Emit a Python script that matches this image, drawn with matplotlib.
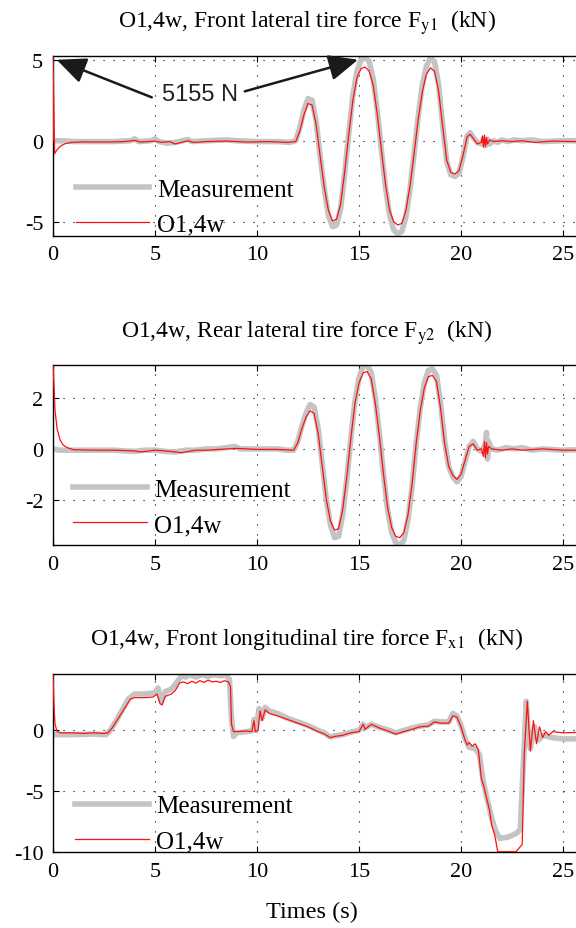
import matplotlib
matplotlib.use("Agg")
import matplotlib.pyplot as plt

plt.rcParams["font.family"] = ["Liberation Serif", "DejaVu Serif"]
plt.rcParams["mathtext.fontset"] = "stix"
plt.rcParams["axes.unicode_minus"] = False

# ---- data (kN vs s) ----
t_fy1_meas = [0.0, 0.5, 1.0, 2.0, 3.0, 3.8, 4.0, 4.2, 4.8, 5.0, 5.2, 5.6, 6.0, 6.6, 6.8, 7.5, 8.5, 9.0,
              10.0, 11.0, 11.6, 11.9, 12.1, 12.3, 12.5, 12.7, 12.9, 13.1, 13.3, 13.5, 13.7, 13.9, 14.1,
              14.3, 14.5, 14.7, 14.9, 15.1, 15.3, 15.5, 15.7, 15.9, 16.1, 16.3, 16.5, 16.7, 16.9, 17.1,
              17.3, 17.5, 17.7, 17.9, 18.1, 18.3, 18.5, 18.7, 18.9, 19.1, 19.3, 19.5, 19.7, 19.9, 20.1,
              20.3, 20.45, 20.6, 20.8, 21.0, 21.1, 21.2, 21.3, 21.4, 21.6, 21.8, 22.0, 22.3, 22.6, 23.0,
              23.5, 24.0, 25.0, 26.0, 27.0]
fy1_meas = [0.0, 0.0, -0.05, -0.05, -0.05, 0.0, 0.12, -0.05, 0.0, 0.1, -0.05, -0.15, -0.1, 0.08, -0.05,
            0.0, 0.05, 0.0, -0.05, -0.05, -0.1, 0.0, 0.8, 1.9, 2.6, 2.5, 1.2, -1.0, -3.0, -4.6, -5.3,
            -5.2, -4.2, -2.0, 0.5, 2.8, 4.3, 5.0, 5.15, 4.9, 3.8, 1.8, -0.6, -2.9, -4.6, -5.5, -5.75,
            -5.6, -4.7, -3.0, -0.8, 1.5, 3.4, 4.6, 5.1, 4.9, 3.5, 1.0, -1.3, -2.1, -2.2, -2.0, -1.0,
            0.3, 0.5, 0.2, -0.1, -0.2, 0.1, -0.3, 0.1, -0.2, 0.0, -0.1, 0.05, -0.05, 0.05, 0.0,
            0.05, -0.05, 0.0, 0.0, 0.0]

t_fy1_obs = [0.0, 0.0, 0.08, 0.2, 0.4, 0.6, 0.9, 1.5, 2.5, 3.5, 4.0, 4.3, 5.0, 5.3, 5.7, 6.0, 6.6,
             6.9, 7.5, 8.5, 9.5, 10.5, 11.5, 11.9, 12.1, 12.3, 12.5, 12.7, 12.9, 13.1, 13.3, 13.5,
             13.7, 13.9, 14.1, 14.3, 14.5, 14.7, 14.9, 15.1, 15.3, 15.5, 15.7, 15.9, 16.1, 16.3,
             16.5, 16.7, 16.9, 17.1, 17.3, 17.5, 17.7, 17.9, 18.1, 18.3, 18.5, 18.7, 18.9, 19.1,
             19.3, 19.5, 19.7, 19.9, 20.1, 20.3, 20.45, 20.6, 20.8, 21.0, 21.05, 21.1, 21.15, 21.2,
             21.25, 21.3, 21.4, 21.6, 22.0, 22.5, 23.0, 23.6, 24.5, 25.5, 27.0]
fy1_obs = [0.0, 5.3, -0.8, -0.55, -0.3, -0.18, -0.1, -0.07, -0.08, -0.05, 0.02, -0.08, -0.02, -0.1,
           -0.05, -0.2, 0.0, -0.1, -0.05, -0.02, -0.08, -0.05, -0.1, -0.05, 0.6, 1.6, 2.3, 2.2, 1.0,
           -1.0, -2.9, -4.3, -4.95, -4.85, -3.9, -1.9, 0.4, 2.5, 3.9, 4.45, 4.55, 4.3, 3.4, 1.6,
           -0.6, -2.7, -4.3, -5.0, -5.2, -5.1, -4.3, -2.8, -0.8, 1.3, 3.0, 4.1, 4.5, 4.3, 3.1, 0.9,
           -1.2, -1.95, -2.05, -1.85, -0.9, 0.25, 0.4, 0.15, -0.2, -0.1, 0.3, -0.4, 0.35, -0.35,
           0.2, -0.2, 0.05, -0.05, 0.0, -0.05, 0.0, -0.1, -0.02, -0.05, -0.05]

t_fy2_meas = [0.0, 0.3, 1.0, 2.0, 3.0, 4.0, 4.5, 5.0, 5.5, 6.0, 6.5, 7.0, 7.5, 8.0, 8.5, 8.9, 9.2, 10.0,
              10.5, 11.0, 11.5, 11.8, 12.0, 12.2, 12.4, 12.6, 12.8, 13.0, 13.2, 13.4, 13.6, 13.8, 14.0,
              14.2, 14.4, 14.6, 14.8, 15.0, 15.2, 15.4, 15.6, 15.8, 16.0, 16.2, 16.4, 16.6, 16.8, 17.0,
              17.2, 17.4, 17.6, 17.8, 18.0, 18.2, 18.4, 18.6, 18.8, 19.0, 19.2, 19.4, 19.6, 19.8, 20.0,
              20.2, 20.4, 20.6, 20.8, 21.0, 21.2, 21.25, 21.3, 21.35, 21.5, 21.8, 22.2, 22.6, 23.0,
              23.5, 24.0, 25.0, 27.0]
fy2_meas = [0.0, -0.05, -0.05, -0.05, -0.05, -0.1, -0.05, -0.05, -0.1, -0.12, -0.05, -0.05, 0.0, 0.0,
            0.05, 0.1, 0.0, 0.0, 0.0, 0.0, -0.05, -0.05, 0.3, 0.9, 1.4, 1.75, 1.65, 0.8, -0.6, -2.0,
            -3.0, -3.5, -3.45, -2.6, -1.2, 0.4, 1.9, 2.8, 3.25, 3.3, 3.0, 2.0, 0.6, -1.0, -2.4, -3.3,
            -3.7, -3.8, -3.6, -2.8, -1.5, 0.2, 1.6, 2.6, 3.1, 3.15, 2.9, 1.8, 0.3, -0.7, -1.1, -1.3,
            -1.1, -0.5, 0.1, 0.3, 0.0, -0.1, 0.2, 0.65, -0.4, 0.3, 0.0, -0.05, 0.05, 0.0, 0.05,
            -0.05, 0.0, -0.05, 0.0]

t_fy2_obs = [0.0, 0.1, 0.2, 0.35, 0.5, 0.7, 1.0, 2.0, 3.0, 4.0, 4.3, 5.0, 5.5, 6.0, 6.3, 7.0, 7.5,
             8.5, 9.0, 10.0, 11.0, 11.8, 12.0, 12.2, 12.4, 12.6, 12.8, 13.0, 13.2, 13.4, 13.6, 13.8,
             14.0, 14.2, 14.4, 14.6, 14.8, 15.0, 15.2, 15.4, 15.6, 15.8, 16.0, 16.2, 16.4, 16.6,
             16.8, 17.0, 17.2, 17.4, 17.6, 17.8, 18.0, 18.2, 18.4, 18.6, 18.8, 19.0, 19.2, 19.4,
             19.6, 19.8, 20.0, 20.2, 20.4, 20.6, 20.8, 21.0, 21.1, 21.15, 21.2, 21.25, 21.3, 21.35,
             21.5, 22.0, 22.5, 23.0, 24.0, 25.0, 27.0]
fy2_obs = [3.4, 1.5, 0.8, 0.35, 0.15, 0.05, -0.03, -0.05, -0.05, -0.08, -0.12, -0.05, -0.08, -0.12,
           -0.15, -0.05, -0.05, 0.0, 0.02, -0.02, -0.02, -0.05, 0.25, 0.8, 1.25, 1.5, 1.4, 0.6, -0.7,
           -2.0, -2.85, -3.2, -3.15, -2.4, -1.1, 0.4, 1.8, 2.6, 3.0, 3.05, 2.75, 1.8, 0.5, -1.0,
           -2.3, -3.1, -3.45, -3.5, -3.3, -2.6, -1.4, 0.2, 1.5, 2.4, 2.85, 2.9, 2.65, 1.6, 0.2,
           -0.7, -1.05, -1.2, -1.0, -0.45, 0.1, 0.2, -0.05, 0.0, -0.3, 0.3, -0.35, 0.25, -0.2, 0.1,
           0.0, -0.05, 0.0, -0.05, 0.0, -0.05, -0.05]

t_fx1_meas = [0.0, 1.0, 2.0, 2.6, 2.8, 3.1, 3.4, 3.7, 4.0, 4.5, 5.0, 5.15, 5.3, 5.5, 5.8, 6.0, 6.3,
              6.5, 6.7, 7.0, 7.3, 7.6, 7.9, 8.2, 8.5, 8.65, 8.75, 8.85, 9.0, 9.5, 9.8, 9.85, 9.95,
              10.1, 10.25, 10.4, 10.6, 11.0, 11.5, 12.0, 12.5, 13.0, 13.3, 13.6, 13.8, 14.2, 14.6,
              15.0, 15.2, 15.3, 15.6, 16.0, 16.5, 16.8, 17.2, 17.6, 18.0, 18.4, 18.7, 19.0, 19.4,
              19.6, 19.8, 20.0, 20.2, 20.4, 20.7, 20.9, 21.1, 21.3, 21.5, 21.7, 21.9, 22.3, 22.7,
              22.9, 23.05, 23.2, 23.3, 23.4, 23.6, 23.8, 24.0, 24.5, 25.0, 26.0, 27.0]
fx1_meas = [-0.35, -0.35, -0.3, -0.35, 0.0, 0.8, 1.7, 2.6, 3.0, 3.0, 3.1, 3.5, 2.4, 3.2, 3.4, 3.8,
            4.5, 4.4, 4.6, 4.4, 4.6, 4.45, 4.6, 4.5, 4.55, 4.2, 1.0, -0.5, -0.2, -0.1, 0.0, 0.9,
            0.0, 1.8, 1.0, 1.9, 1.6, 1.4, 1.0, 0.7, 0.4, 0.0, -0.2, -0.55, -0.45, -0.35, -0.15,
            0.0, 0.5, 0.2, 0.5, 0.25, 0.0, -0.2, 0.0, 0.2, 0.35, 0.45, 0.75, 0.7, 0.7, 1.4, 1.2, 0.4,
            -0.7, -1.4, -1.5, -2.0, -4.3, -5.8, -7.2, -8.3, -8.9, -8.8, -8.5, -8.2, -3.0, 2.4, -0.5,
            -1.5, 0.3, -0.8, -0.4, -0.6, -0.7, -0.7, -0.7]

t_fx1_obs = [0.0, 0.05, 0.1, 0.2, 0.4, 1.0, 1.5, 2.0, 2.5, 2.7, 2.9, 3.2, 3.5, 3.8, 4.0, 4.5, 4.9,
             5.1, 5.25, 5.35, 5.5, 5.8, 6.0, 6.2, 6.4, 6.6, 6.8, 7.0, 7.2, 7.4, 7.6, 7.8, 8.0, 8.2,
             8.4, 8.6, 8.7, 8.75, 8.85, 9.0, 9.5, 9.75, 9.85, 9.92, 10.05, 10.15, 10.25, 10.4, 10.6,
             11.0, 11.5, 12.0, 12.5, 13.0, 13.3, 13.6, 13.8, 14.2, 14.6, 15.0, 15.2, 15.3, 15.6,
             16.0, 16.5, 16.8, 17.2, 17.6, 18.0, 18.4, 18.7, 19.0, 19.4, 19.6, 19.8, 20.0, 20.2,
             20.3, 20.4, 20.55, 20.7, 20.85, 21.0, 21.1, 21.3, 21.4, 21.5, 21.65, 21.8, 22.7, 23.0,
             23.1, 23.25, 23.4, 23.55, 23.7, 23.85, 24.0, 24.15, 24.3, 24.5, 25.0, 26.0, 27.0]
fx1_obs = [4.7, 2.0, 0.5, -0.1, -0.2, -0.2, -0.25, -0.2, -0.25, -0.2, 0.2, 1.0, 1.8, 2.6, 2.7, 2.7,
           2.75, 3.0, 2.2, 2.1, 2.8, 3.0, 3.3, 3.9, 4.0, 3.85, 4.05, 3.9, 4.1, 3.95, 4.15, 4.0, 4.05,
           3.95, 4.1, 4.0, 3.6, 0.5, -0.1, -0.1, -0.05, -0.1, 0.8, -0.1, 0.0, 1.6, 0.8, 1.7, 1.4,
           1.2, 0.9, 0.6, 0.3, -0.1, -0.3, -0.6, -0.5, -0.4, -0.2, -0.1, 0.5, 0.1, 0.5, 0.2, -0.1,
           -0.3, -0.1, 0.1, 0.3, 0.35, 0.7, 0.6, 0.6, 1.2, 1.1, 0.3, -0.8, -1.2, -1.0, -1.3, -1.1,
           -1.6, -4.0, -4.5, -5.9, -6.6, -7.8, -8.6, -10.0, -10.0, -9.4, -2.0, 2.4, -1.7, 0.8, -1.1,
           0.3, -0.6, -0.1, -0.4, -0.1, -0.2, -0.15, -0.2]

panels = [
    dict(t_meas=t_fy1_meas, meas=fy1_meas, t_obs=t_fy1_obs, obs=fy1_obs,
         title=r"O1,4w, Front lateral tire force F$_{\mathrm{y1}}$  (kN)",
         ylim=(-5.86, 5.25), yticks=[-5, 0, 5], top=56.7, bottom=236.7,
         title_y=28, leg=(0.037, 0.0)),
    dict(t_meas=t_fy2_meas, meas=fy2_meas, t_obs=t_fy2_obs, obs=fy2_obs,
         title=r"O1,4w, Rear lateral tire force F$_{\mathrm{y2}}$  (kN)",
         ylim=(-3.79, 3.31), yticks=[-2, 0, 2], top=366, bottom=546,
         title_y=338, leg=(0.033, 0.05)),
    dict(t_meas=t_fx1_meas, meas=fx1_meas, t_obs=t_fx1_obs, obs=fx1_obs,
         title=r"O1,4w, Front longitudinal tire force F$_{\mathrm{x1}}$  (kN)",
         ylim=(-10.05, 4.65), yticks=[-10, -5, 0], top=675, bottom=853.3,
         title_y=645, leg=(0.036, 0.0)),
]

W, H = 576, 929
fig = plt.figure(figsize=(W / 100, H / 100), dpi=100)

for p in panels:
    ax = fig.add_axes([53 / W, 1 - p["bottom"] / H, 612 / W, (p["bottom"] - p["top"]) / H])
    ax.plot(p["t_meas"], p["meas"], color="#c4c4c4", lw=4.0, solid_joinstyle="round",
            label="Measurement", zorder=2)
    ax.plot(p["t_obs"], p["obs"], color="#ff1010", lw=0.9, label="O1,4w", zorder=3)
    ax.set_xlim(0, 30)
    ax.set_ylim(*p["ylim"])
    ax.set_xticks([0, 5, 10, 15, 20, 25, 30])
    ax.set_yticks(p["yticks"])
    ax.grid(True, color="black", lw=0.8, linestyle=(0, (1, 8)))
    ax.tick_params(direction="in", top=True, right=True, length=4, width=0.8,
                   labelsize=16, pad=7)
    for s in ax.spines.values():
        s.set_linewidth(1.0)
    ax.legend(loc="lower left", bbox_to_anchor=p["leg"], frameon=False, fontsize=18,
              handlelength=2.95, handletextpad=0.3, labelspacing=0.5,
              borderpad=0, borderaxespad=0)
    fig.text(307 / W, 1 - p["title_y"] / H, p["title"], ha="center", va="baseline",
             fontsize=17)
    if p is panels[0]:
        ax.text(7.2, 2.9, "5155 N", ha="center", va="center", fontsize=17,
                family=["Liberation Sans", "DejaVu Sans"], color="#222222", zorder=5)
        arrow = dict(arrowstyle="-|>,head_length=0.9,head_width=0.4", lw=1.8,
                     color="#1a1a1a", mutation_scale=20, shrinkA=0, shrinkB=0)
        ax.annotate("", xy=(0.18, 5.0), xytext=(4.84, 2.68), arrowprops=arrow, zorder=5)
        ax.annotate("", xy=(14.95, 5.0), xytext=(9.4, 3.05), arrowprops=arrow, zorder=5)

fig.text(312 / W, 1 - 918 / H, "Times (s)", ha="center", va="baseline", fontsize=17.5)

fig.savefig("out.png", dpi=100)
